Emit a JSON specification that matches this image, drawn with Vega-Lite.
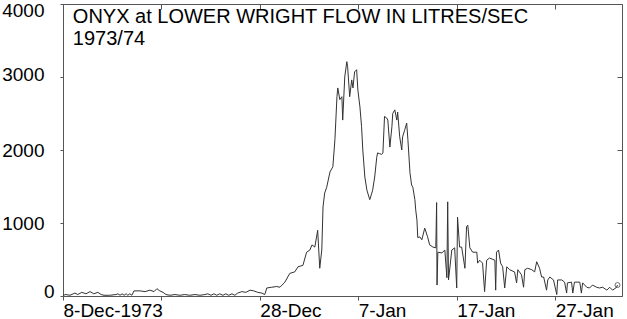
{
  "$schema": "https://vega.github.io/schema/vega-lite/v6.json",
  "width": 559,
  "height": 292,
  "autosize": {"type": "none"},
  "padding": {"left": 63, "top": 4, "right": 5, "bottom": 23},
  "background": "white",
  "config": {
    "view": {"stroke": null},
    "font": "Liberation Sans",
    "axis": {"grid": false, "domainColor": "#555555", "tickColor": "#555555", "labelColor": "black", "labelFont": "Liberation Sans", "labelFontSize": 19, "title": null}
  },
  "layer": [
    {
      "data": {
        "format": {"parse": {"t": "date"}},
        "values": [
          {"t": "1973-12-08T00:00", "flow": 10},
          {"t": "1973-12-08T07:00", "flow": 20},
          {"t": "1973-12-08T17:00", "flow": 10},
          {"t": "1973-12-09T05:00", "flow": 40},
          {"t": "1973-12-09T12:00", "flow": 20},
          {"t": "1973-12-09T22:00", "flow": 50},
          {"t": "1973-12-10T08:00", "flow": 30},
          {"t": "1973-12-10T18:00", "flow": 60},
          {"t": "1973-12-11T03:00", "flow": 30},
          {"t": "1973-12-11T13:00", "flow": 50},
          {"t": "1973-12-11T21:00", "flow": 20},
          {"t": "1973-12-12T04:00", "flow": 10},
          {"t": "1973-12-12T18:00", "flow": 10},
          {"t": "1973-12-13T09:00", "flow": 20},
          {"t": "1973-12-13T14:00", "flow": 30},
          {"t": "1973-12-13T19:00", "flow": 10},
          {"t": "1973-12-14T00:00", "flow": 30},
          {"t": "1973-12-14T05:00", "flow": 10},
          {"t": "1973-12-14T10:00", "flow": 30},
          {"t": "1973-12-14T14:00", "flow": 10},
          {"t": "1973-12-14T19:00", "flow": 30},
          {"t": "1973-12-15T00:00", "flow": 10},
          {"t": "1973-12-15T05:00", "flow": 70},
          {"t": "1973-12-15T20:00", "flow": 70},
          {"t": "1973-12-16T08:00", "flow": 60},
          {"t": "1973-12-16T20:00", "flow": 80},
          {"t": "1973-12-17T06:00", "flow": 60},
          {"t": "1973-12-17T13:00", "flow": 100},
          {"t": "1973-12-17T20:00", "flow": 70},
          {"t": "1973-12-18T04:00", "flow": 50},
          {"t": "1973-12-18T11:00", "flow": 20},
          {"t": "1973-12-18T21:00", "flow": 10},
          {"t": "1973-12-19T09:00", "flow": 20},
          {"t": "1973-12-19T21:00", "flow": 10},
          {"t": "1973-12-20T09:00", "flow": 20},
          {"t": "1973-12-20T21:00", "flow": 10},
          {"t": "1973-12-21T10:00", "flow": 20},
          {"t": "1973-12-21T22:00", "flow": 10},
          {"t": "1973-12-22T10:00", "flow": 20},
          {"t": "1973-12-22T17:00", "flow": 30},
          {"t": "1973-12-23T01:00", "flow": 10},
          {"t": "1973-12-23T08:00", "flow": 30},
          {"t": "1973-12-23T15:00", "flow": 10},
          {"t": "1973-12-23T22:00", "flow": 30},
          {"t": "1973-12-24T06:00", "flow": 10},
          {"t": "1973-12-24T13:00", "flow": 30},
          {"t": "1973-12-24T20:00", "flow": 10},
          {"t": "1973-12-25T04:00", "flow": 30},
          {"t": "1973-12-25T11:00", "flow": 10},
          {"t": "1973-12-25T18:00", "flow": 40},
          {"t": "1973-12-26T04:00", "flow": 60},
          {"t": "1973-12-26T14:00", "flow": 50},
          {"t": "1973-12-27T00:00", "flow": 80},
          {"t": "1973-12-27T09:00", "flow": 70},
          {"t": "1973-12-27T19:00", "flow": 50},
          {"t": "1973-12-28T05:00", "flow": 40},
          {"t": "1973-12-28T12:00", "flow": 20},
          {"t": "1973-12-28T17:00", "flow": 110},
          {"t": "1973-12-29T05:00", "flow": 120},
          {"t": "1973-12-29T17:00", "flow": 130},
          {"t": "1973-12-30T01:00", "flow": 120},
          {"t": "1973-12-30T13:00", "flow": 190},
          {"t": "1973-12-31T01:00", "flow": 310},
          {"t": "1973-12-31T13:00", "flow": 330},
          {"t": "1973-12-31T21:00", "flow": 400},
          {"t": "1974-01-01T09:00", "flow": 420},
          {"t": "1974-01-01T18:00", "flow": 600},
          {"t": "1974-01-02T02:00", "flow": 630},
          {"t": "1974-01-02T07:00", "flow": 700},
          {"t": "1974-01-02T14:00", "flow": 670},
          {"t": "1974-01-02T21:00", "flow": 900},
          {"t": "1974-01-03T02:00", "flow": 380},
          {"t": "1974-01-03T07:00", "flow": 630},
          {"t": "1974-01-03T10:00", "flow": 1220},
          {"t": "1974-01-03T14:00", "flow": 1410},
          {"t": "1974-01-03T19:00", "flow": 1490},
          {"t": "1974-01-04T03:00", "flow": 1700},
          {"t": "1974-01-04T10:00", "flow": 1770},
          {"t": "1974-01-04T15:00", "flow": 2140},
          {"t": "1974-01-04T20:00", "flow": 2730},
          {"t": "1974-01-04T22:00", "flow": 2850},
          {"t": "1974-01-05T03:00", "flow": 2690},
          {"t": "1974-01-05T08:00", "flow": 2730},
          {"t": "1974-01-05T10:00", "flow": 2410},
          {"t": "1974-01-05T15:00", "flow": 3000},
          {"t": "1974-01-05T20:00", "flow": 3210},
          {"t": "1974-01-05T22:00", "flow": 3140},
          {"t": "1974-01-06T03:00", "flow": 2730},
          {"t": "1974-01-06T08:00", "flow": 2960},
          {"t": "1974-01-06T11:00", "flow": 2850},
          {"t": "1974-01-06T15:00", "flow": 3070},
          {"t": "1974-01-06T20:00", "flow": 3100},
          {"t": "1974-01-06T23:00", "flow": 2820},
          {"t": "1974-01-07T04:00", "flow": 2590},
          {"t": "1974-01-07T08:00", "flow": 2320},
          {"t": "1974-01-07T11:00", "flow": 2000},
          {"t": "1974-01-07T16:00", "flow": 1630},
          {"t": "1974-01-07T21:00", "flow": 1450},
          {"t": "1974-01-08T04:00", "flow": 1320},
          {"t": "1974-01-08T09:00", "flow": 1410},
          {"t": "1974-01-08T11:00", "flow": 1450},
          {"t": "1974-01-08T16:00", "flow": 1630},
          {"t": "1974-01-08T21:00", "flow": 1900},
          {"t": "1974-01-08T23:00", "flow": 1960},
          {"t": "1974-01-09T04:00", "flow": 1950},
          {"t": "1974-01-09T09:00", "flow": 1940},
          {"t": "1974-01-09T12:00", "flow": 1960},
          {"t": "1974-01-09T16:00", "flow": 2460},
          {"t": "1974-01-09T21:00", "flow": 2440},
          {"t": "1974-01-10T00:00", "flow": 2410},
          {"t": "1974-01-10T05:00", "flow": 2040},
          {"t": "1974-01-10T10:00", "flow": 2320},
          {"t": "1974-01-10T12:00", "flow": 2500},
          {"t": "1974-01-10T17:00", "flow": 2550},
          {"t": "1974-01-10T22:00", "flow": 2410},
          {"t": "1974-01-11T00:00", "flow": 2520},
          {"t": "1974-01-11T05:00", "flow": 2180},
          {"t": "1974-01-11T10:00", "flow": 2000},
          {"t": "1974-01-11T12:00", "flow": 2180},
          {"t": "1974-01-11T17:00", "flow": 2270},
          {"t": "1974-01-11T22:00", "flow": 2370},
          {"t": "1974-01-12T01:00", "flow": 2140},
          {"t": "1974-01-12T06:00", "flow": 1690},
          {"t": "1974-01-12T10:00", "flow": 1520},
          {"t": "1974-01-12T13:00", "flow": 1490},
          {"t": "1974-01-12T18:00", "flow": 1320},
          {"t": "1974-01-12T20:00", "flow": 1180},
          {"t": "1974-01-12T23:00", "flow": 1040},
          {"t": "1974-01-13T01:00", "flow": 800},
          {"t": "1974-01-13T06:00", "flow": 810},
          {"t": "1974-01-13T11:00", "flow": 770},
          {"t": "1974-01-13T18:00", "flow": 930},
          {"t": "1974-01-14T01:00", "flow": 810},
          {"t": "1974-01-14T06:00", "flow": 700},
          {"t": "1974-01-14T14:00", "flow": 670},
          {"t": "1974-01-14T21:00", "flow": 660},
          {"t": "1974-01-14T23:00", "flow": 1280},
          {"t": "1974-01-15T00:00", "flow": 150},
          {"t": "1974-01-15T02:00", "flow": 600},
          {"t": "1974-01-15T12:00", "flow": 590},
          {"t": "1974-01-15T19:00", "flow": 630},
          {"t": "1974-01-16T00:00", "flow": 250},
          {"t": "1974-01-16T02:00", "flow": 1290},
          {"t": "1974-01-16T04:00", "flow": 220},
          {"t": "1974-01-16T12:00", "flow": 630},
          {"t": "1974-01-16T19:00", "flow": 660},
          {"t": "1974-01-17T00:00", "flow": 110},
          {"t": "1974-01-17T02:00", "flow": 1080},
          {"t": "1974-01-17T07:00", "flow": 670},
          {"t": "1974-01-17T12:00", "flow": 670},
          {"t": "1974-01-17T20:00", "flow": 380},
          {"t": "1974-01-18T00:00", "flow": 950},
          {"t": "1974-01-18T03:00", "flow": 970},
          {"t": "1974-01-18T08:00", "flow": 660},
          {"t": "1974-01-18T15:00", "flow": 600},
          {"t": "1974-01-19T01:00", "flow": 600},
          {"t": "1974-01-19T03:00", "flow": 450},
          {"t": "1974-01-19T08:00", "flow": 490},
          {"t": "1974-01-19T15:00", "flow": 450},
          {"t": "1974-01-19T20:00", "flow": 60},
          {"t": "1974-01-20T01:00", "flow": 490},
          {"t": "1974-01-20T08:00", "flow": 520},
          {"t": "1974-01-20T21:00", "flow": 490},
          {"t": "1974-01-20T23:00", "flow": 80},
          {"t": "1974-01-21T01:00", "flow": 600},
          {"t": "1974-01-21T06:00", "flow": 630},
          {"t": "1974-01-21T11:00", "flow": 450},
          {"t": "1974-01-21T16:00", "flow": 400},
          {"t": "1974-01-21T21:00", "flow": 110},
          {"t": "1974-01-22T02:00", "flow": 400},
          {"t": "1974-01-22T09:00", "flow": 360},
          {"t": "1974-01-22T21:00", "flow": 330},
          {"t": "1974-01-23T02:00", "flow": 180},
          {"t": "1974-01-23T05:00", "flow": 360},
          {"t": "1974-01-23T14:00", "flow": 290},
          {"t": "1974-01-23T19:00", "flow": 120},
          {"t": "1974-01-23T22:00", "flow": 360},
          {"t": "1974-01-24T05:00", "flow": 380},
          {"t": "1974-01-24T15:00", "flow": 360},
          {"t": "1974-01-24T22:00", "flow": 330},
          {"t": "1974-01-25T03:00", "flow": 470},
          {"t": "1974-01-25T10:00", "flow": 380},
          {"t": "1974-01-25T15:00", "flow": 260},
          {"t": "1974-01-25T20:00", "flow": 260},
          {"t": "1974-01-26T03:00", "flow": 80},
          {"t": "1974-01-26T06:00", "flow": 220},
          {"t": "1974-01-26T11:00", "flow": 260},
          {"t": "1974-01-26T20:00", "flow": 220},
          {"t": "1974-01-27T04:00", "flow": 20},
          {"t": "1974-01-27T06:00", "flow": 220},
          {"t": "1974-01-27T16:00", "flow": 220},
          {"t": "1974-01-27T23:00", "flow": 190},
          {"t": "1974-01-28T04:00", "flow": 40},
          {"t": "1974-01-28T06:00", "flow": 180},
          {"t": "1974-01-28T16:00", "flow": 190},
          {"t": "1974-01-28T19:00", "flow": 40},
          {"t": "1974-01-28T23:00", "flow": 190},
          {"t": "1974-01-29T12:00", "flow": 190},
          {"t": "1974-01-29T16:00", "flow": 40},
          {"t": "1974-01-29T19:00", "flow": 180},
          {"t": "1974-01-30T05:00", "flow": 120},
          {"t": "1974-01-30T12:00", "flow": 110},
          {"t": "1974-01-30T19:00", "flow": 150},
          {"t": "1974-01-31T05:00", "flow": 120},
          {"t": "1974-01-31T12:00", "flow": 110},
          {"t": "1974-01-31T20:00", "flow": 120},
          {"t": "1974-02-01T06:00", "flow": 80},
          {"t": "1974-02-01T13:00", "flow": 120},
          {"t": "1974-02-01T20:00", "flow": 80},
          {"t": "1974-02-02T06:00", "flow": 120},
          {"t": "1974-02-02T08:00", "flow": 150}
        ]
      },
      "layer": [
        {
          "mark": {"type": "line", "color": "#333333", "strokeWidth": 1, "interpolate": "linear"},
          "encoding": {
            "x": {
              "field": "t", "type": "temporal",
              "scale": {"domain": [{"year": 1973, "month": 12, "date": 8}, {"year": 1974, "month": 2, "date": 2, "hours": 19}]},
              "axis": {
                "orient": "bottom",
                "values": [
                  {"year": 1973, "month": 12, "date": 8},
                  {"year": 1973, "month": 12, "date": 18},
                  {"year": 1973, "month": 12, "date": 28},
                  {"year": 1974, "month": 1, "date": 7},
                  {"year": 1974, "month": 1, "date": 17},
                  {"year": 1974, "month": 1, "date": 27}
                ],
                "labelExpr": "timeFormat(datum.value, '%-d-%b') == '18-Dec' ? '' : (timeFormat(datum.value, '%-d-%b') == '8-Dec' ? '8-Dec-1973' : timeFormat(datum.value, '%-d-%b'))",
                "labelAlign": "left",
                "labelBaseline": "top",
                "labelPadding": 1,
                "labelOverlap": false,
                "labelFlush": false,
                "labelBound": false,
                "tickSize": 4
              }
            },
            "y": {
              "field": "flow", "type": "quantitative",
              "scale": {"domain": [0, 4000], "nice": false, "zero": true},
              "axis": {
                "orient": "left",
                "values": [0, 1000, 2000, 3000, 4000],
                "format": "d",
                "tickSize": 3,
                "labelAlign": "right",
                "labelBaseline": "middle",
                "labelPadding": {"condition": {"test": "datum.value == 0", "value": 6}, "value": 16},
                "labelOffset": {"condition": [{"test": "datum.value == 4000", "value": 6}, {"test": "datum.value == 0", "value": -5}, {"test": "datum.value == 3000", "value": -3}], "value": 0},
                "labelBound": false,
                "labelFlush": false
              }
            }
          }
        },
        {
          "transform": [{"filter": {"field": "t", "equal": {"year": 1974, "month": 2, "date": 2, "hours": 8}}}],
          "mark": {"type": "point", "shape": "circle", "size": 25, "filled": false, "color": "#333333", "strokeWidth": 1},
          "encoding": {
            "x": {"field": "t", "type": "temporal"},
            "y": {"field": "flow", "type": "quantitative"}
          }
        }
      ]
    },
    {
      "data": {"values": [{"label": ["ONYX at LOWER WRIGHT FLOW IN LITRES/SEC", "1973/74"]}]},
      "mark": {"type": "text", "align": "left", "baseline": "top", "fontSize": 20, "lineHeight": 22, "font": "Liberation Sans", "color": "black", "dy": 3},
      "encoding": {
        "x": {
          "datum": {"year": 1973, "month": 12, "date": 9}, "type": "temporal",
          "axis": {
            "orient": "top", "labels": false, "tickSize": -5,
            "values": [
              {"year": 1973, "month": 12, "date": 8},
              {"year": 1973, "month": 12, "date": 18},
              {"year": 1973, "month": 12, "date": 28},
              {"year": 1974, "month": 1, "date": 7},
              {"year": 1974, "month": 1, "date": 17},
              {"year": 1974, "month": 1, "date": 27}
            ]
          }
        },
        "y": {
          "datum": 4000, "type": "quantitative",
          "axis": {"orient": "right", "labels": false, "tickSize": -5, "values": [0, 1000, 2000, 3000, 4000]}
        },
        "text": {"field": "label"}
      }
    }
  ],
  "resolve": {"axis": {"x": "independent", "y": "independent"}}
}
